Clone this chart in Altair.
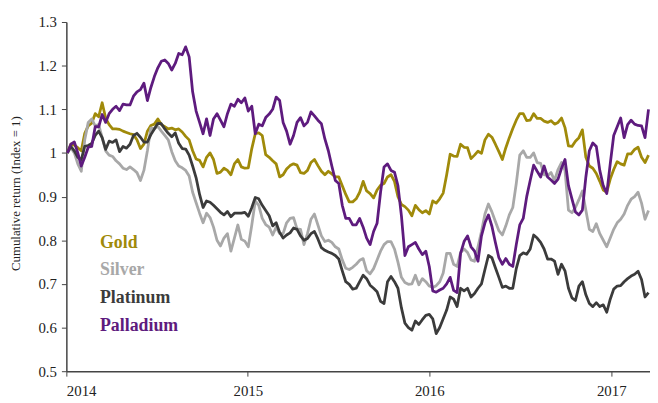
import altair as alt
import pandas as pd

# weekly observations (Fridays), cumulative return index
start_date = "2014-01-03"
n_weeks = 168

gold = [1.00, 1.02, 1.018, 1.012, 1.005, 1.045, 1.062, 1.068, 1.09, 1.083,
        1.115, 1.08, 1.065, 1.055, 1.055, 1.054, 1.05, 1.047, 1.044, 1.042,
        1.03, 1.01, 1.02, 1.05, 1.063, 1.066, 1.078, 1.065, 1.06, 1.055,
        1.057, 1.053, 1.055, 1.048, 1.038, 1.03, 1.005, 0.986, 0.983, 0.968,
        0.99, 1.0, 0.985, 0.953, 0.956, 0.965, 0.96, 0.95, 0.975, 0.985,
        0.968, 0.965, 0.966, 1.01, 1.044, 1.046, 1.04, 0.996, 0.99, 0.982,
        0.975, 0.945, 0.95, 0.963, 0.971, 0.975, 0.972, 0.955, 0.953, 0.96,
        0.978, 0.985, 0.971, 0.958, 0.95, 0.958, 0.952, 0.945, 0.945, 0.925,
        0.905, 0.888, 0.888, 0.895, 0.91, 0.935, 0.913, 0.907, 0.897, 0.915,
        0.926, 0.93, 0.945, 0.95, 0.935, 0.9, 0.882, 0.877, 0.869, 0.856,
        0.88, 0.87, 0.863, 0.868, 0.86, 0.89, 0.885, 0.895, 0.908, 0.95,
        0.997, 0.993, 0.992, 1.02, 1.013, 1.012, 0.987, 0.995, 1.004, 0.999,
        1.03, 1.043, 1.036, 1.02, 1.003, 0.985, 1.012, 1.035, 1.056, 1.075,
        1.09, 1.09, 1.074, 1.075, 1.09, 1.079, 1.079, 1.073, 1.07, 1.074,
        1.066, 1.07, 1.08, 1.058, 1.016, 1.015, 1.027, 1.035, 1.053, 0.99,
        0.97, 0.965, 0.953, 0.935, 0.915, 0.91, 0.94, 0.962, 0.98, 0.975,
        0.972, 0.998, 0.998, 1.008, 1.013, 0.99, 0.978, 0.995]

silver = [1.00, 1.012, 1.0, 0.975, 0.958, 1.03, 1.07, 1.078, 1.062, 1.065,
          1.035, 1.005, 0.995, 0.992, 0.982, 0.975, 0.965, 0.962, 0.968, 0.962,
          0.955, 0.937, 0.96, 1.005, 1.057, 1.056, 1.061, 1.05, 1.04, 1.03,
          1.003, 0.982, 0.97, 0.966, 0.96, 0.947, 0.91, 0.886, 0.862, 0.84,
          0.862, 0.852, 0.83, 0.8, 0.787, 0.805, 0.815, 0.775, 0.805, 0.835,
          0.802, 0.798, 0.785, 0.835, 0.89, 0.88, 0.85, 0.836, 0.83, 0.812,
          0.83, 0.815, 0.815, 0.84, 0.85, 0.852, 0.826, 0.825, 0.79, 0.815,
          0.848, 0.86, 0.835, 0.81, 0.797, 0.8, 0.795, 0.785, 0.78, 0.755,
          0.736, 0.733, 0.738, 0.745, 0.754, 0.758, 0.73, 0.723, 0.735, 0.755,
          0.775, 0.79, 0.797, 0.797, 0.78, 0.75, 0.715, 0.703, 0.699, 0.7,
          0.72, 0.698, 0.712, 0.705, 0.695, 0.692, 0.696, 0.705, 0.725, 0.77,
          0.77, 0.745, 0.74, 0.772, 0.78, 0.772, 0.755, 0.752, 0.785, 0.82,
          0.86, 0.883, 0.865, 0.843, 0.822, 0.812, 0.833, 0.858, 0.875, 0.93,
          0.995, 1.005, 0.99, 0.99, 1.0, 0.978, 0.976, 0.95, 0.948, 0.955,
          0.937, 0.962, 0.978, 0.96, 0.869, 0.863, 0.875, 0.893, 0.913, 0.869,
          0.825, 0.82, 0.838, 0.815, 0.8, 0.785, 0.805, 0.825, 0.84, 0.848,
          0.86, 0.88, 0.894, 0.9, 0.91, 0.885, 0.848, 0.868]

platinum = [1.00, 1.015, 1.005, 0.99, 0.985, 1.015, 1.017, 1.022, 1.04, 1.05,
            1.035, 1.008, 1.027, 1.024, 1.03, 1.003, 1.015, 1.011, 1.02, 1.04,
            1.045, 1.036, 1.025, 1.025, 1.042, 1.055, 1.068, 1.067, 1.055, 1.045,
            1.037, 1.046, 1.022, 1.01, 1.009, 0.995, 0.97, 0.943, 0.905, 0.875,
            0.89, 0.887, 0.88, 0.872, 0.864, 0.858, 0.866, 0.854, 0.862, 0.862,
            0.862, 0.864, 0.855, 0.875, 0.898, 0.895, 0.88, 0.868, 0.856, 0.833,
            0.84, 0.818, 0.805, 0.812, 0.817, 0.828, 0.825, 0.81, 0.8, 0.804,
            0.815, 0.82, 0.803, 0.783, 0.777, 0.773, 0.77, 0.765, 0.757, 0.73,
            0.705, 0.699, 0.688, 0.69, 0.705, 0.72, 0.712, 0.697, 0.69, 0.682,
            0.66, 0.655, 0.705, 0.717, 0.705, 0.69, 0.645, 0.61, 0.6, 0.594,
            0.615, 0.607, 0.618, 0.628, 0.63, 0.62, 0.586, 0.6, 0.62, 0.64,
            0.67, 0.665, 0.648, 0.69, 0.684, 0.69, 0.67, 0.678, 0.69, 0.7,
            0.733, 0.765, 0.76, 0.737, 0.715, 0.692, 0.695, 0.69, 0.69, 0.735,
            0.765, 0.771, 0.768, 0.78, 0.812, 0.805, 0.795, 0.78, 0.757, 0.757,
            0.752, 0.722, 0.745, 0.73, 0.69, 0.668, 0.662, 0.695, 0.705, 0.675,
            0.655, 0.648, 0.657, 0.648, 0.652, 0.635, 0.665, 0.688, 0.695, 0.696,
            0.705, 0.712, 0.718, 0.722, 0.729, 0.71, 0.67, 0.68]

palladium = [1.00, 1.02, 1.025, 1.0, 0.97, 0.99, 1.013, 1.015, 1.06, 1.06,
             1.088, 1.07, 1.09, 1.10, 1.107, 1.097, 1.112, 1.11, 1.11, 1.13,
             1.14, 1.145, 1.16, 1.12, 1.15, 1.175, 1.195, 1.21, 1.213, 1.205,
             1.19, 1.205, 1.228, 1.225, 1.243, 1.22, 1.14, 1.096, 1.07, 1.044,
             1.078, 1.04, 1.078, 1.09, 1.075, 1.06, 1.09, 1.112, 1.107, 1.123,
             1.115, 1.126, 1.096, 1.107, 1.044, 1.066, 1.062, 1.081, 1.089, 1.10,
             1.128, 1.12, 1.07, 1.05, 1.02, 1.04, 1.07, 1.081, 1.062, 1.07,
             1.094, 1.085, 1.075, 1.067, 1.032, 1.005, 0.97, 0.937, 0.93, 0.88,
             0.85, 0.85, 0.835, 0.835, 0.85, 0.83, 0.805, 0.79, 0.82, 0.839,
             0.91, 0.968, 0.975, 0.96, 0.956, 0.925, 0.856, 0.765, 0.785, 0.79,
             0.795, 0.78, 0.767, 0.775, 0.74, 0.684, 0.681, 0.686, 0.69, 0.70,
             0.715, 0.685, 0.68, 0.77, 0.797, 0.81, 0.785, 0.775, 0.752, 0.81,
             0.84, 0.858, 0.832, 0.795, 0.76, 0.745, 0.758, 0.745, 0.74, 0.79,
             0.835, 0.85, 0.90, 0.937, 0.972, 0.958, 0.945, 0.97, 0.945, 0.938,
             0.93, 0.94, 0.965, 0.985, 0.925, 0.895, 0.865, 0.858, 0.869, 0.945,
             1.005, 1.023, 1.015, 0.96, 0.925, 0.907, 0.975, 1.04, 1.06, 1.08,
             1.035, 1.065, 1.075, 1.066, 1.063, 1.062, 1.035, 1.10]

metals = ["Gold", "Silver", "Platinum", "Palladium"]
colors = ["#A08A0A", "#A8A8A8", "#3B3B3B", "#5E1B7E"]
y_ticks = [0.5, 0.6, 0.7, 0.8, 0.9, 1.0, 1.1, 1.2, 1.3]

dates = pd.date_range(start_date, periods=n_weeks, freq="7D")
series = {"Gold": gold, "Silver": silver, "Platinum": platinum, "Palladium": palladium}
frames = []
for m in metals:
    vals = series[m]
    frames.append(pd.DataFrame({"date": dates[:len(vals)], "value": vals, "metal": m}))
df = pd.concat(frames, ignore_index=True)

FONT = "Liberation Serif, serif"

lines = alt.Chart(df).mark_line(strokeWidth=2.8, strokeJoin="round").encode(
    x=alt.X("date:T",
            scale=alt.Scale(domain=["2014-01-01", "2017-03-20"], nice=False),
            axis=alt.Axis(title=None, format="%Y",
                          tickCount={"interval": "year", "step": 1},
                          labelFont=FONT, labelFontSize=15, labelColor="#222",
                          labelPadding=8, tickSize=5, grid=False,
                          domainColor="#444", tickColor="#444", domainWidth=1.5)),
    y=alt.Y("value:Q",
            scale=alt.Scale(domain=[0.5, 1.3], nice=False, zero=False),
            axis=alt.Axis(title="Cumulative return (Index = 1)", values=y_ticks,
                          format="~g", labelFont=FONT, labelFontSize=15,
                          labelColor="#222", labelPadding=5, tickSize=5, grid=False,
                          domainColor="#444", tickColor="#444", domainWidth=1.5,
                          titleFont=FONT, titleFontSize=13, titleFontWeight="normal",
                          titleColor="#222", titleX=-51, titleY=173,
                          titleAngle=270, titleAlign="center", titleBaseline="middle")),
    color=alt.Color("metal:N", scale=alt.Scale(domain=metals, range=colors), legend=None),
    detail="metal:N",
)

legend_y = [223, 251, 279, 307]
labels = []
for m, c, yy in zip(metals, colors, legend_y):
    labels.append(
        alt.Chart(pd.DataFrame({"t": [m]})).mark_text(
            font=FONT, fontSize=18, fontWeight="bold", align="left",
            baseline="middle", color=c
        ).encode(text="t:N", x=alt.value(34), y=alt.value(yy))
    )

chart = alt.layer(lines, *labels).properties(
    width=590, height=353,
    autosize=alt.AutoSizeParams(type="none"),
    padding={"left": 59, "top": 12, "right": 0, "bottom": 30},
).configure_view(stroke=None)

chart.save("out.html", embed_options={"renderer": "svg", "actions": False})
